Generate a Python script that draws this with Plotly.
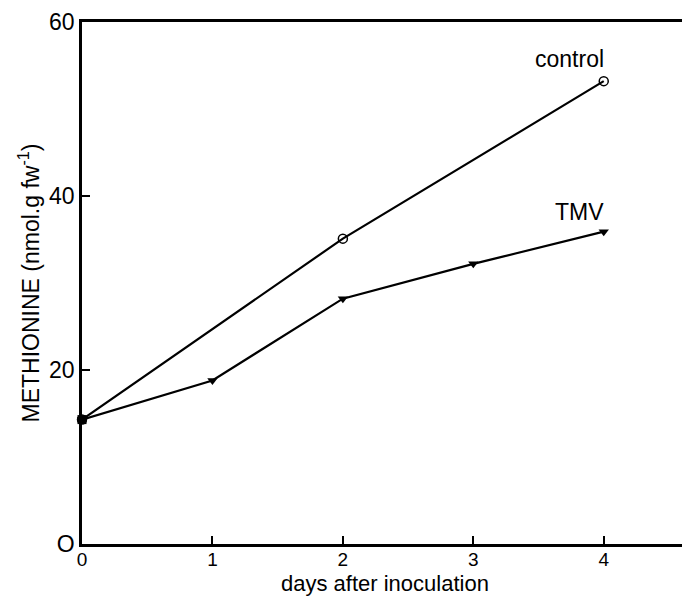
import plotly.graph_objects as go

days_control = [0, 2, 4]
control = [14.3, 35.1, 53.2]
days_tmv = [0, 1, 2, 3, 4]
tmv = [14.3, 18.8, 28.2, 32.2, 35.9]
y_ticks = [0, 20, 40, 60]
x_ticks = [0, 1, 2, 3, 4]

FONT = "Liberation Sans, Arial, sans-serif"

fig = go.Figure()
fig.add_trace(go.Scatter(
    x=days_control, y=control, mode="lines+markers",
    line=dict(color="black", width=2.2),
    marker=dict(symbol="circle-open", size=9, color="black", line=dict(width=1.5)),
    showlegend=False, cliponaxis=False))
fig.add_trace(go.Scatter(
    x=days_tmv, y=tmv, mode="lines+markers",
    line=dict(color="black", width=2.2),
    marker=dict(symbol="triangle-down", size=9, color="black"),
    showlegend=False, cliponaxis=False))
fig.add_trace(go.Scatter(
    x=[0], y=[tmv[0]], mode="markers",
    marker=dict(symbol="square", size=9, color="black"),
    showlegend=False, cliponaxis=False))

fig.add_annotation(x=4, y=control[-1], text="control", showarrow=False,
                   xanchor="right", yanchor="bottom", xshift=2, yshift=7,
                   font=dict(family=FONT, size=23, color="black"))
fig.add_annotation(x=4, y=tmv[-1], text="TMV", showarrow=False,
                   xanchor="right", yanchor="bottom", xshift=2, yshift=5,
                   font=dict(family=FONT, size=23, color="black"))
fig.add_annotation(xref="paper", yref="paper", x=0.505, y=0, yanchor="bottom",
                   yshift=-53, borderpad=0, text="days after inoculation", showarrow=False,
                   font=dict(family=FONT, size=22, color="black"))

fig.update_layout(
    width=682, height=596,
    margin=dict(l=82, r=0, t=22, b=52),
    paper_bgcolor="white", plot_bgcolor="white",
    font=dict(family=FONT, color="black"),
    xaxis=dict(range=[0, 4.6], tickvals=x_ticks, ticktext=[str(v) for v in x_ticks],
               showline=True, linecolor="black", linewidth=2.5, mirror=True,
               ticks="inside", ticklen=8, tickwidth=2, tickcolor="black",
               showgrid=False, zeroline=False, ticklabelstandoff=-4,
               tickfont=dict(size=19, family=FONT)),
    yaxis=dict(range=[0, 60], tickvals=y_ticks, ticktext=["O", "20", "40", "60"],
               showline=True, linecolor="black", linewidth=2.5,
               ticks="inside", ticklen=8, tickwidth=2, tickcolor="black",
               showgrid=False, zeroline=False,
               tickfont=dict(size=23, family=FONT),
               title=dict(text="METHIONINE (nmol.g fw<sup>-1</sup>)", standoff=4,
                          font=dict(size=23, family=FONT))),
)

fig.write_html("out.html")
